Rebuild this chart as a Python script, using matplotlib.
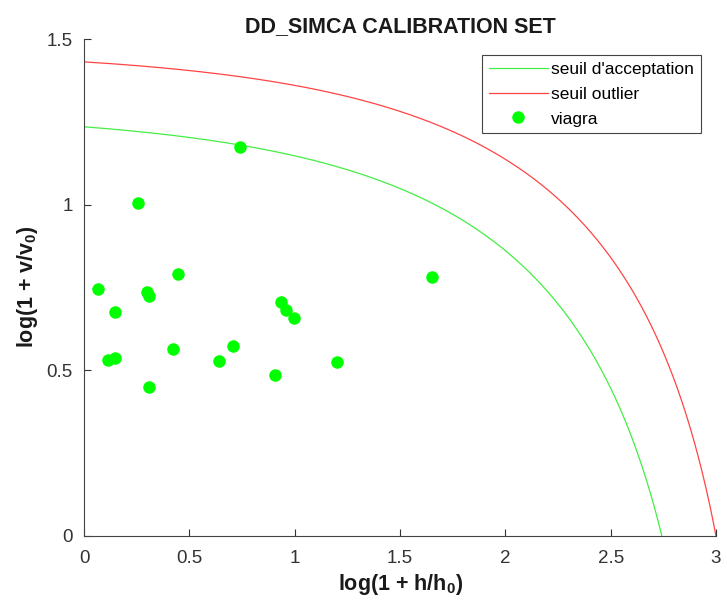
import numpy as np
import matplotlib

matplotlib.use("Agg")
import matplotlib.pyplot as plt

plt.rcParams['font.family'] = ['Liberation Sans', 'DejaVu Sans']
plt.rcParams['mathtext.fontset'] = 'custom'
plt.rcParams['mathtext.rm'] = 'Liberation Sans'
plt.rcParams['mathtext.bf'] = 'Liberation Sans:bold'

# Calibration samples (log(1 + h/h0), log(1 + v/v0)).
h_log = [0.74, 0.255, 0.066, 0.446, 0.297, 0.308, 0.148, 0.937, 0.958, 0.999,
         0.114, 0.145, 0.309, 0.421, 0.642, 0.707, 0.906, 1.199, 1.652]
v_log = [1.173, 1.006, 0.744, 0.792, 0.735, 0.725, 0.675, 0.706, 0.683, 0.658,
         0.531, 0.536, 0.451, 0.565, 0.529, 0.573, 0.485, 0.525, 0.782]

# Threshold intercepts: (h axis, v axis) in log(1 + .) coordinates.
accept_intercepts = [2.743, 1.235]
outlier_intercepts = [3.0, 1.431]

x_ticks = [0, 0.5, 1, 1.5, 2, 2.5, 3]
x_tick_labels = ["0", "0.5", "1", "1.5", "2", "2.5", "3"]
y_ticks = [0, 0.5, 1, 1.5]
y_tick_labels = ["0", "0.5", "1", "1.5"]


def threshold_curve(h_max, v_max, n=400):
    # boundary is linear in h/h0, v/v0 : u/U + w/W = 1, drawn in log(1 + .) space
    U = np.expm1(h_max)
    W = np.expm1(v_max)
    u = np.linspace(0, U, n)
    w = W * (1 - u / U)
    return np.log1p(u), np.log1p(w)


W_PX, H_PX = 727, 602
fig = plt.figure(figsize=(W_PX / 100, H_PX / 100), dpi=100)
ax = fig.add_axes([84 / W_PX, 66 / H_PX, 632 / W_PX, 497 / H_PX])

xa, ya = threshold_curve(*accept_intercepts)
xo, yo = threshold_curve(*outlier_intercepts)
ax.plot(xa, ya, color='#44ee44', linewidth=0.9, label="seuil d'acceptation")
ax.plot(xo, yo, color='#ff4444', linewidth=0.9, label="seuil outlier")
ax.plot(h_log, v_log, 'o', color='#00ff00', markersize=9, markeredgewidth=0,
        label="viagra")

ax.set_xlim(0, 3)
ax.set_ylim(0, 1.5)
ax.set_xticks(x_ticks)
ax.set_xticklabels(x_tick_labels)
ax.set_yticks(y_ticks)
ax.set_yticklabels(y_tick_labels)
ax.tick_params(direction='in', length=5, width=0.8, labelsize=13.5,
               colors='#333333')
ax.tick_params(axis='x', pad=10)
ax.tick_params(axis='y', pad=8)
for side in ['top', 'right']:
    ax.spines[side].set_visible(False)
for side in ['left', 'bottom']:
    ax.spines[side].set_color('#444444')
    ax.spines[side].set_linewidth(0.8)

ax.set_title("DD_SIMCA CALIBRATION SET", fontsize=15.5, fontweight='bold',
             pad=5, color='#1a1a1a')
ax.set_xlabel(r"log(1 + h/h$_\mathbf{0}$)", fontsize=15.5, fontweight='bold',
              color='#1a1a1a')
ax.set_ylabel(r"log(1 + v/v$_\mathbf{0}$)", fontsize=15.5, fontweight='bold',
              color='#1a1a1a')
ax.xaxis.set_label_coords(401 / W_PX, (H_PX - 572) / H_PX, transform=fig.transFigure)
ax.yaxis.set_label_coords(40 / W_PX, (H_PX - 287) / H_PX, transform=fig.transFigure)

leg = ax.legend(loc='upper right', bbox_to_anchor=(701 / W_PX, (H_PX - 55) / H_PX),
                bbox_transform=fig.transFigure, fontsize=12.5, fancybox=False,
                framealpha=1, edgecolor='#444444', borderpad=0.4,
                borderaxespad=0, labelspacing=0.55, handlelength=3.4,
                handletextpad=0.2)
leg.get_frame().set_linewidth(0.8)

fig.savefig("out.png", dpi=100)
plt.close(fig)
